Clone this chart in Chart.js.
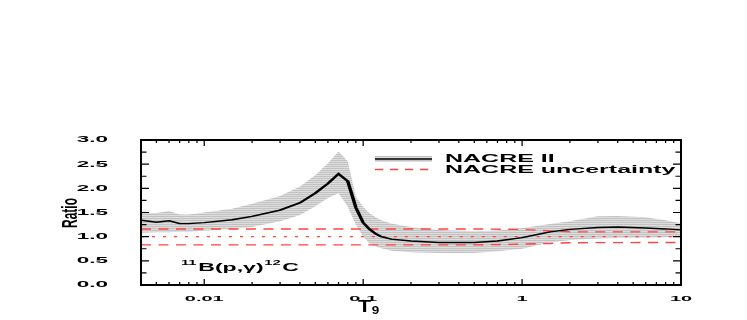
<!DOCTYPE html>
<html><head><meta charset="utf-8">
<script src="https://cdn.jsdelivr.net/npm/chart.js@4.4.1/dist/chart.umd.min.js"></script>
<style>html,body{margin:0;padding:0;background:#fff;}#c{display:block;}</style>
</head><body>
<canvas id="c" width="299" height="320" style="width:747px;height:320px"></canvas>
<script>
// ---- data ----
const temperatures = [0.004,0.005,0.006,0.007,0.008,0.01,0.015,0.02,0.03,0.04,0.05,0.06,0.07,0.08,0.09,0.1,0.11,0.12,0.13,0.15,0.2,0.3,0.5,0.7,1,1.5,2,3,4,6,8,10];
const nacre2Ratio = [1.34,1.30,1.33,1.27,1.27,1.29,1.35,1.42,1.55,1.70,1.90,2.10,2.30,2.15,1.60,1.29,1.15,1.06,1.00,0.95,0.91,0.88,0.88,0.91,0.98,1.10,1.15,1.19,1.20,1.18,1.16,1.14];
const nacre2Upper = [1.49,1.49,1.53,1.46,1.46,1.50,1.58,1.68,1.84,2.04,2.27,2.52,2.76,2.56,1.82,1.62,1.48,1.40,1.34,1.27,1.20,1.14,1.11,1.13,1.18,1.26,1.32,1.42,1.43,1.40,1.34,1.28];
const nacre2Lower = [1.08,1.09,1.09,1.10,1.10,1.12,1.16,1.20,1.32,1.45,1.63,1.80,1.90,1.62,1.25,1.00,0.86,0.80,0.76,0.71,0.68,0.66,0.66,0.70,0.75,0.88,0.93,0.96,0.97,0.98,0.99,1.00];
const uncT = [0.004,0.5,1,1.5,2,10];
const uncUpper = [1.16,1.16,1.15,1.12,1.10,1.10];
const uncLower = [0.83,0.83,0.845,0.86,0.875,0.88];
const unityT = [0.004,10];
const unityRatio = [1,1];
const xTickValues = [0.01,0.1,1,10];
const xTickLabels = ['0.01','0.1','1','10'];
const yTickValues = [0,0.5,1,1.5,2,2.5,3];
const yTickLabels = ['0.0','0.5','1.0','1.5','2.0','2.5','3.0'];

// ---- rendering setup ----
const W = 747, H = 320, LW = 299, SX = W / LW;
const FONT = "'Liberation Sans', Arial, sans-serif";
const RED = '#ff4444';
const canvas = document.getElementById('c');
const pc = document.createElement('canvas'); pc.width = 4; pc.height = 2;
const pctx = pc.getContext('2d');
pctx.fillStyle = '#dddddd'; pctx.fillRect(0,0,4,2);
pctx.fillStyle = '#c2c2c2'; pctx.fillRect(0,0,4,1);
const hatch = canvas.getContext('2d').createPattern(pc, 'repeat');

const pts = (xs, ys) => xs.map((x,i) => ({x, y: ys[i]}));

const stretchPlugin = {
  id: 'stretch',
  beforeDraw(chart) {
    const c = chart.canvas, ctx = chart.ctx;
    if (c.width !== W || c.height !== H) { c.width = W; c.height = H; }
    ctx.setTransform(1,0,0,1,0,0);
    ctx.fillStyle = '#fff'; ctx.fillRect(0,0,W,H);
    ctx.setTransform(SX,0,0,1,0,0);
  },
  afterDraw(chart) {
    const ctx = chart.ctx, a = chart.chartArea, xs = chart.scales.x, ys = chart.scales.y;
    ctx.save();
    ctx.strokeStyle = '#000'; ctx.setLineDash([]);
    // frame
    ctx.lineWidth = 2;
    ctx.beginPath();
    ctx.moveTo(a.left - 0.4, a.top); ctx.lineTo(a.right + 0.4, a.top);
    ctx.moveTo(a.left - 0.4, a.bottom); ctx.lineTo(a.right + 0.4, a.bottom);
    ctx.stroke();
    ctx.lineWidth = 0.8;
    ctx.beginPath();
    ctx.moveTo(a.left, a.top); ctx.lineTo(a.left, a.bottom);
    ctx.moveTo(a.right, a.top); ctx.lineTo(a.right, a.bottom);
    ctx.stroke();
    // x ticks (inward, top and bottom)
    ctx.lineWidth = 0.5;
    ctx.beginPath();
    xs.ticks.forEach(t => {
      const px = xs.getPixelForValue(t.value);
      const lg = Math.log10(t.value);
      const L = Math.abs(lg - Math.round(lg)) < 1e-6 ? 6 : 3;
      ctx.moveTo(px, a.bottom); ctx.lineTo(px, a.bottom - L);
      ctx.moveTo(px, a.top); ctx.lineTo(px, a.top + L);
    });
    ctx.stroke();
    // y ticks (inward, left and right)
    ctx.lineWidth = 1.2;
    ctx.beginPath();
    ys.ticks.forEach(t => {
      const py = ys.getPixelForValue(t.value);
      const L = Math.abs(t.value * 2 - Math.round(t.value * 2)) < 1e-6 ? 3.2 : 2.2;
      ctx.moveTo(a.left, py); ctx.lineTo(a.left + L, py);
      ctx.moveTo(a.right, py); ctx.lineTo(a.right - L, py);
    });
    ctx.stroke();

    // legend
    const lx0 = 375 / SX, lx1 = 432 / SX, tx = 445 / SX;
    ctx.fillStyle = hatch;
    ctx.fillRect(lx0, 156, lx1 - lx0, 6);
    ctx.strokeStyle = '#000'; ctx.lineWidth = 1.5;
    ctx.beginPath(); ctx.moveTo(lx0, 159); ctx.lineTo(lx1, 159); ctx.stroke();
    ctx.strokeStyle = RED; ctx.lineWidth = 1.4; ctx.setLineDash([3.3, 2.7]);
    ctx.beginPath(); ctx.moveTo(lx0, 169.5); ctx.lineTo(lx1, 169.5); ctx.stroke();
    ctx.setLineDash([]);
    ctx.fillStyle = '#000';
    ctx.font = `bold 10px ${FONT}`;
    ctx.textAlign = 'left'; ctx.textBaseline = 'middle';
    ctx.fillText(chart.data.datasets[0].label, tx, 159.5);
    ctx.fillText(chart.data.datasets[1].label, tx, 169.8);

    // reaction label
    ctx.save();
    ctx.translate(181 / SX, 270.7);
    ctx.scale(2.1 / SX, 1);
    ctx.textBaseline = 'alphabetic';
    let x = 0;
    const piece = (s, size, dy) => { ctx.font = `bold ${size}px ${FONT}`; ctx.fillText(s, x, dy); x += ctx.measureText(s).width; };
    piece('11', 7, -5.5); x += 0.8;
    piece('B(p,γ)', 11, 0); x += 0.3;
    piece('12', 7, -5.5); x += 0.8;
    piece('C', 11, 0);
    ctx.restore();

    // y title
    ctx.save();
    ctx.translate(71 / SX, 213);
    ctx.scale(1.9 / SX, 1);
    ctx.rotate(-Math.PI / 2);
    ctx.font = `bold 12px ${FONT}`;
    ctx.textAlign = 'center'; ctx.textBaseline = 'middle';
    ctx.fillText('Ratio', 0, 0);
    ctx.restore();

    // x title T9
    ctx.save();
    ctx.translate(358 / SX, 312);
    ctx.scale(1.35 / SX, 1);
    ctx.font = `bold 16px ${FONT}`;
    ctx.textAlign = 'left'; ctx.textBaseline = 'alphabetic';
    ctx.fillText('T', 0, 0);
    const tw = ctx.measureText('T').width;
    ctx.font = `bold 10px ${FONT}`;
    ctx.fillText('9', tw + 0.5, 1.5);
    ctx.restore();

    ctx.restore();
  }
};

const lineDs = (label, data, color, width, dash) => ({
  label, data, borderColor: color, borderWidth: width, borderDash: dash,
  pointRadius: 0, fill: false, tension: 0
});

new Chart(canvas, {
  type: 'line',
  data: {
    datasets: [
      lineDs('NACRE II', pts(temperatures, nacre2Ratio), '#000', 1.4, []),
      lineDs('NACRE uncertainty', pts(uncT, uncUpper), RED, 1.4, [4, 3]),
      lineDs('NACRE uncertainty (lower)', pts(uncT, uncLower), RED, 1.4, [4, 3]),
      lineDs('unity', pts(unityT, unityRatio), RED, 1.4, [1.2, 3.2]),
      { label: 'NACRE II upper', data: pts(temperatures, nacre2Upper), borderColor: 'rgba(0,0,0,0)', borderWidth: 0,
        backgroundColor: hatch, fill: '+1', pointRadius: 0, tension: 0 },
      { label: 'NACRE II lower', data: pts(temperatures, nacre2Lower), borderColor: 'rgba(0,0,0,0)', borderWidth: 0,
        fill: false, pointRadius: 0, tension: 0 }
    ]
  },
  options: {
    responsive: false, animation: false, devicePixelRatio: 1,
    layout: { padding: { top: 140, right: LW - 681 / SX, left: 0, bottom: 0 } },
    plugins: { legend: { display: false }, tooltip: { enabled: false } },
    scales: {
      x: {
        type: 'logarithmic', min: 0.004, max: 10,
        afterBuildTicks: s => {
          const t = [];
          for (let e = -3; e <= 1; e++) for (let m = 1; m <= 9; m++) {
            const v = +(m * Math.pow(10, e)).toPrecision(6);
            if (v >= 0.004 && v <= 10) t.push({ value: v });
          }
          s.ticks = t;
        },
        afterFit: s => { s.height = 35; },
        grid: { display: false }, border: { display: false },
        ticks: {
          autoSkip: false, maxRotation: 0, minRotation: 0, padding: 1, color: '#000',
          font: { family: FONT, size: 8, weight: 'bold' },
          callback: v => { const i = xTickValues.findIndex(q => Math.abs(q - v) / q < 1e-6); return i >= 0 ? xTickLabels[i] : ''; }
        }
      },
      y: {
        min: 0, max: 3,
        afterBuildTicks: s => { const t = []; for (let k = 0; k <= 12; k++) t.push({ value: k * 0.25 }); s.ticks = t; },
        afterFit: s => { s.width = 141 / SX; },
        grid: { display: false }, border: { display: false },
        ticks: {
          autoSkip: false, padding: 5.2, color: '#000',
          font: { family: FONT, size: 9, weight: 'bold' },
          callback: v => { const i = yTickValues.findIndex(q => Math.abs(q - v) < 1e-6); return i >= 0 ? yTickLabels[i] : ''; }
        }
      }
    }
  },
  plugins: [stretchPlugin]
});
</script>
</body></html>
